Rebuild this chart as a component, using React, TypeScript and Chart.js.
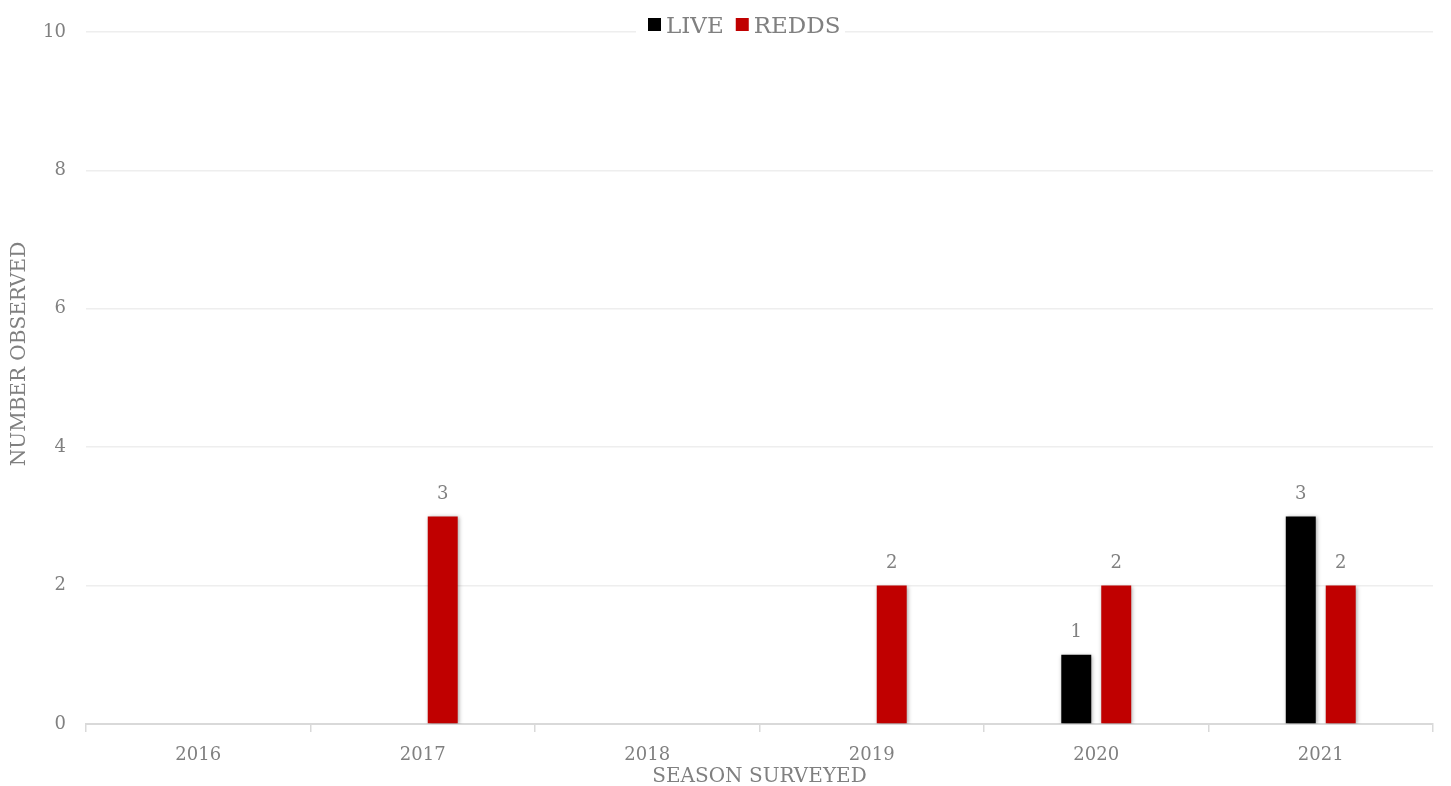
import React, { useEffect, useRef } from "react";
import { Chart, registerables } from "chart.js";

Chart.register(...registerables);

const categories = ["2016", "2017", "2018", "2019", "2020", "2021"];
const liveValues = [0, 0, 0, 0, 1, 3];
const reddsValues = [0, 3, 0, 2, 2, 2];
const seriesNames = ["LIVE", "REDDS"];
const seriesColors = ["#000000", "#C00000"];
const yTitle = "NUMBER OBSERVED";
const xTitle = "SEASON SURVEYED";

const FONT = "'DejaVu Serif', serif";
const GREY = "#808080";

export default function App() {
  const ref = useRef<HTMLCanvasElement | null>(null);

  useEffect(() => {
    document.body.style.margin = "0";
    const canvas = ref.current;
    if (!canvas) return;

    const shadowPlugin = {
      id: "barShadow",
      beforeDatasetDraw(chart: any) {
        const ctx = chart.ctx;
        ctx.save();
        ctx.shadowColor = "rgba(0,0,0,0.35)";
        ctx.shadowBlur = 4;
        ctx.shadowOffsetX = 1;
        ctx.shadowOffsetY = 1;
      },
      afterDatasetDraw(chart: any) {
        chart.ctx.restore();
      },
    };

    const labelsPlugin = {
      id: "valueLabels",
      afterDatasetsDraw(chart: any) {
        const ctx = chart.ctx;
        ctx.save();
        ctx.fillStyle = GREY;
        ctx.font = `18px ${FONT}`;
        ctx.textAlign = "center";
        ctx.textBaseline = "middle";
        chart.data.datasets.forEach((ds: any, di: number) => {
          const meta = chart.getDatasetMeta(di);
          meta.data.forEach((bar: any, i: number) => {
            const v = ds.data[i];
            if (!v) return;
            ctx.fillText(String(v), bar.x, bar.y - 22);
          });
        });
        ctx.restore();
      },
    };

    const decorPlugin = {
      id: "decor",
      afterDraw(chart: any) {
        const ctx = chart.ctx;
        ctx.save();
        // legend
        ctx.fillStyle = "#ffffff";
        ctx.fillRect(636, 12, 209, 28);
        ctx.font = `23px ${FONT}`;
        ctx.textBaseline = "alphabetic";
        ctx.textAlign = "left";
        let x = 648;
        seriesNames.forEach((name, i) => {
          ctx.fillStyle = seriesColors[i];
          ctx.fillRect(x, 18, 13, 13);
          ctx.fillStyle = GREY;
          ctx.fillText(name, x + 18, 33);
          x += 18 + ctx.measureText(name).width + 12;
        });
        // y title
        ctx.translate(20, 354);
        ctx.rotate(-Math.PI / 2);
        ctx.font = `20px ${FONT}`;
        ctx.textAlign = "center";
        ctx.textBaseline = "middle";
        ctx.fillStyle = GREY;
        ctx.fillText(yTitle, 0, 0);
        ctx.restore();
      },
    };

    const chart = new Chart(canvas, {
      type: "bar",
      data: {
        labels: categories,
        datasets: [
          {
            label: seriesNames[0],
            data: liveValues,
            backgroundColor: seriesColors[0],
            categoryPercentage: 0.356,
            barPercentage: 0.75,
          },
          {
            label: seriesNames[1],
            data: reddsValues,
            backgroundColor: seriesColors[1],
            categoryPercentage: 0.356,
            barPercentage: 0.75,
          },
        ],
      },
      options: {
        animation: false,
        responsive: false,
        layout: { padding: { top: 32, right: 18, left: 0, bottom: 0 } },
        plugins: {
          legend: { display: false },
          tooltip: { enabled: false },
        },
        scales: {
          x: {
            grid: {
              display: true,
              drawOnChartArea: false,
              drawTicks: true,
              tickLength: 8,
              color: "#d9d9d9",
              lineWidth: 1.5,
            },
            border: { display: true, color: "#d9d9d9", width: 2 },
            ticks: { color: GREY, font: { family: FONT, size: 18 }, padding: 13 },
            title: {
              display: true,
              text: xTitle,
              color: GREY,
              font: { family: FONT, size: 20 },
              padding: { top: 0, bottom: -3 },
            },
            afterFit(scale: any) {
              scale.height = 62;
            },
          },
          y: {
            min: 0,
            max: 10,
            ticks: {
              stepSize: 2,
              color: GREY,
              font: { family: FONT, size: 18 },
              padding: 20,
            },
            grid: { color: "#eeeeee", drawTicks: false, lineWidth: 1.5 },
            border: { display: false },
            afterFit(scale: any) {
              scale.width = 86;
            },
          },
        },
      },
      plugins: [shadowPlugin, labelsPlugin, decorPlugin],
    });

    return () => chart.destroy();
  }, []);

  return (
    <div style={{ width: 1451, height: 786 }}>
      <canvas ref={ref} width={1451} height={786} />
    </div>
  );
}
